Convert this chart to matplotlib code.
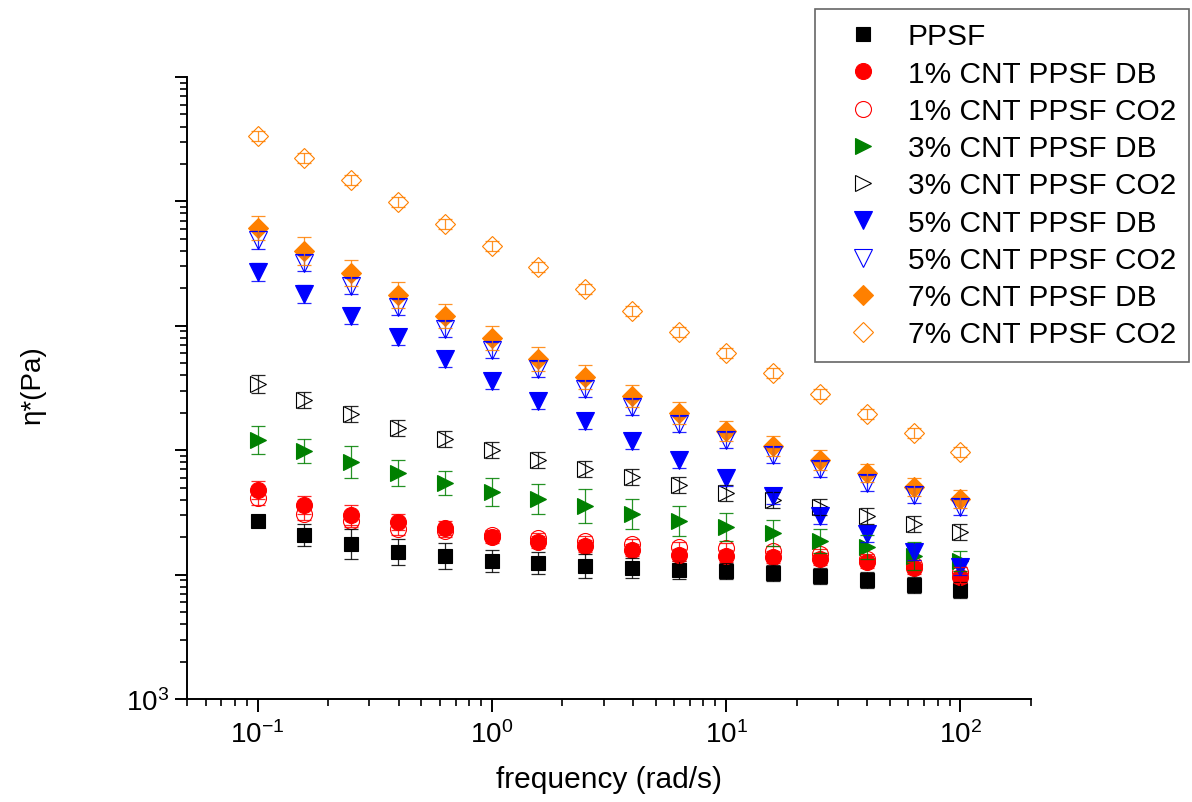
import matplotlib
matplotlib.use("Agg")
import matplotlib.pyplot as plt
from matplotlib.ticker import FixedLocator, FuncFormatter, LogLocator, NullFormatter

plt.rcParams['font.family'] = ['Liberation Sans', 'DejaVu Sans']
plt.rcParams['mathtext.fontset'] = 'custom'
plt.rcParams['mathtext.rm'] = 'Liberation Sans'
plt.rcParams['mathtext.it'] = 'Liberation Sans:italic'
plt.rcParams['mathtext.bf'] = 'Liberation Sans:bold'

# frequency (rad/s)
freq = [0.1, 0.158, 0.251, 0.398, 0.631, 1.0, 1.58, 2.51, 3.98, 6.31,
        10, 15.8, 25.1, 39.8, 63.1, 100]

# complex viscosity eta* (Pa)
ppsf = [26970, 20800, 17620, 15200, 14110, 12860, 12400, 11730, 11300, 10890,
        10690, 10300, 9750, 9050, 8250, 7520]
cnt1_db = [47870, 36260, 30140, 26470, 23690, 20060, 18290, 16980, 15760, 14370,
           14110, 13850, 13350, 12630, 11300, 9570]
cnt1_co2 = [41280, 30700, 26970, 23260, 22410, 20800, 19690, 18630, 17620, 16670,
            16360, 15480, 14640, 13350, 11950, 10490]
cnt3_db = [120800, 98540, 80360, 65560, 54500, 46130, 40520, 35590, 30700, 26970,
           24130, 21600, 18630, 16670, 14110, 12860]
cnt3_co2 = [340600, 253200, 195400, 150800, 123000, 100400, 83400, 70630, 60890, 52520,
            45280, 39780, 34940, 29590, 25520, 22000]
cnt5_db = [2.707e6, 1.801e6, 1.199e6, 8.128e5, 5.41e5, 3.60e5, 2.486e5, 1.717e5, 1.186e5, 83400,
           59760, 42830, 29590, 21200, 15200, 11510]
cnt5_co2 = [4.894e6, 3.197e6, 2.089e6, 1.416e6, 9.426e5, 6.391e5, 4.494e5, 3.105e5, 2.225e5, 1.624e5,
            1.208e5, 91500, 70630, 54500, 43640, 34940]
cnt7_db = [6.112e6, 3.992e6, 2.657e6, 1.768e6, 1.199e6, 7.977e5, 5.41e5, 3.877e5, 2.727e5, 1.991e5,
           1.427e5, 1.081e5, 83400, 65560, 50610, 40520]
cnt7_co2 = [3.355e7, 2.233e7, 1.486e7, 9.89e6, 6.581e6, 4.38e6, 2.97e6, 1.976e6, 1.315e6, 8.917e5,
            6.045e5, 4.174e5, 2.83e5, 1.954e5, 1.375e5, 96720]

# relative errors (fraction of value)
err_ppsf = [0.10, 0.23, 0.32, 0.27, 0.27, 0.23, 0.23, 0.25, 0.20, 0.18, 0.16, 0.16, 0.16, 0.16, 0.16, 0.16]
err_1db = [0.18, 0.18, 0.20, 0.16, 0.14, 0.12, 0.12, 0.12, 0.12, 0.12, 0.12, 0.12, 0.12, 0.12, 0.12, 0.12]
err_1co2 = [0.14, 0.12, 0.12, 0.12, 0.12, 0.10, 0.10, 0.10, 0.10, 0.10, 0.10, 0.10, 0.10, 0.10, 0.10, 0.10]
err_3db = [0.30, 0.25, 0.35, 0.27, 0.25, 0.30, 0.32, 0.37, 0.32, 0.32, 0.30, 0.27, 0.25, 0.25, 0.30, 0.20]
err_3co2 = [0.18, 0.17, 0.17, 0.16, 0.16, 0.16, 0.16, 0.16, 0.16, 0.16, 0.16, 0.16, 0.16, 0.16, 0.16, 0.16]
err_5db = [0.18, 0.18, 0.17, 0.16, 0.16, 0.16, 0.16, 0.16, 0.16, 0.16, 0.16, 0.16, 0.16, 0.16, 0.16, 0.16]
err_5co2 = [0.18, 0.17, 0.16, 0.16, 0.16, 0.16, 0.16, 0.16, 0.16, 0.16, 0.16, 0.16, 0.16, 0.16, 0.16, 0.16]
err_7db = [0.25, 0.30, 0.27, 0.27, 0.25, 0.25, 0.25, 0.25, 0.23, 0.23, 0.20, 0.20, 0.20, 0.18, 0.18, 0.18]
err_7co2 = [0.10] * 16

labels = ["PPSF", "1% CNT PPSF DB", "1% CNT PPSF CO2", "3% CNT PPSF DB", "3% CNT PPSF CO2",
          "5% CNT PPSF DB", "5% CNT PPSF CO2", "7% CNT PPSF DB", "7% CNT PPSF CO2"]
values = [ppsf, cnt1_db, cnt1_co2, cnt3_db, cnt3_co2, cnt5_db, cnt5_co2, cnt7_db, cnt7_co2]
errors = [err_ppsf, err_1db, err_1co2, err_3db, err_3co2, err_5db, err_5co2, err_7db, err_7co2]

colors = ["black", "#ff0000", "#ff0000", "#008000", "black", "#0000ff", "#0000ff", "#ff8000", "#ff8000"]
markers = ["s", "o", "o", ">", ">", "v", "v", "D", "D"]
sizes = [10, 11.5, 11.5, 12, 12, 13, 13, 9.8, 9.8]
filled = [True, True, False, True, False, True, False, True, False]
zorders = [2.0, 2.1, 2.2, 2.3, 2.4, 2.6, 2.7, 2.5, 2.8]

fig = plt.figure(figsize=(11.92, 8.03), dpi=100)
ax = fig.add_axes([187 / 1192, 1 - 700 / 803, 844 / 1192, 622 / 803])

handles = []
for y, e, lab, c, m, s, f, z in zip(values, errors, labels, colors, markers, sizes, filled, zorders):
    lower = [v - v / (1 + r) for v, r in zip(y, e)]
    upper = [v * r for v, r in zip(y, e)]
    h, = ax.plot(freq, y, linestyle="none", marker=m, markersize=s,
                 markerfacecolor=c if f else "none", markeredgecolor=c,
                 markeredgewidth=0.8, label=lab, zorder=z)
    handles.append(h)
    ax.errorbar(freq, y, yerr=[lower, upper], fmt="none", ecolor=c,
                elinewidth=0.9, capsize=5, capthick=0.9, zorder=3, alpha=0.85)

ax.set_xscale("log")
ax.set_yscale("log")
ax.set_xlim(0.05, 200)
ax.set_ylim(1e3, 1e8)

ax.yaxis.set_major_locator(FixedLocator([1e3, 1e4, 1e5, 1e6, 1e7, 1e8]))
ax.yaxis.set_major_formatter(FuncFormatter(lambda v, p: r"$\mathdefault{10^{3}}$" if abs(v - 1e3) < 1 else ""))
ax.yaxis.set_minor_locator(LogLocator(base=10, subs=range(2, 10), numticks=50))
ax.yaxis.set_minor_formatter(NullFormatter())
ax.xaxis.set_major_locator(FixedLocator([0.1, 1, 10, 100]))
ax.xaxis.set_minor_locator(LogLocator(base=10, subs=range(2, 10), numticks=50))
ax.xaxis.set_minor_formatter(NullFormatter())

for side in ["top", "right"]:
    ax.spines[side].set_visible(False)
for side in ["left", "bottom"]:
    ax.spines[side].set_linewidth(1.4)

ax.tick_params(which="major", direction="out", length=9, width=1.4, labelsize=20)
ax.tick_params(axis="x", which="major", pad=6)
ax.tick_params(axis="y", which="major", pad=4)
ax.tick_params(which="minor", direction="out", length=5, width=1.2)

fig.text(609 / 1192, 1 - 780 / 803, "frequency (rad/s)", fontsize=21.5, ha="center", va="center")
fig.text(33 / 1192, 1 - 385 / 803, "η*(Pa)", fontsize=20, rotation=90, ha="center", va="center")

leg = ax.legend(handles=handles, loc="upper left", bbox_to_anchor=(815 / 1192, 1 - 10 / 803),
                bbox_transform=fig.transFigure, fontsize=21.5, frameon=True, fancybox=False,
                edgecolor="#666666", framealpha=1, borderpad=0.45, handlelength=2.3,
                handletextpad=0.35, labelspacing=0.31, borderaxespad=0, numpoints=1)
leg.get_frame().set_linewidth(1.2)

fig.savefig("out.png", dpi=100)
